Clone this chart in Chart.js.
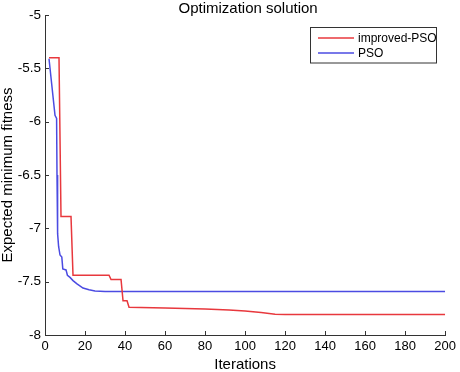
<!DOCTYPE html>
<html>
<head>
<meta charset="utf-8">
<title>Optimization solution</title>
<script src="https://cdn.jsdelivr.net/npm/chart.js@4.4.0/dist/chart.umd.min.js"></script>
<style>
    html, body { margin: 0; padding: 0; background: #fff; }
    #wrap { width: 460px; height: 372px; position: relative; }
</style>
</head>
<body>
<div id="wrap"><canvas id="fitness-chart"></canvas></div>
<script>
// Values
const improvedIter = [2, 7, 8, 13, 14, 32, 33, 38, 39, 41, 42, 60, 80, 92, 100, 108, 115, 120, 200];
const improvedFit = [-5.40, -5.40, -6.89, -6.89, -7.44, -7.44, -7.48, -7.48, -7.68, -7.68, -7.74, -7.748, -7.757, -7.765, -7.775, -7.79, -7.805, -7.808, -7.808];

const psoIter = [2, 5, 5.8, 6.0, 6.3, 6.8, 7.5, 8.4, 8.9, 10.5, 11.2, 12.5, 14, 16, 19, 22, 25, 30, 200];
const psoFit = [-5.41, -5.94, -5.97, -6.50, -7.05, -7.17, -7.25, -7.27, -7.38, -7.39, -7.44, -7.46, -7.49, -7.52, -7.56, -7.575, -7.587, -7.592, -7.592];

const xTicks = [0, 20, 40, 60, 80, 100, 120, 140, 160, 180, 200];
const yTicks = [-8, -7.5, -7, -6.5, -6, -5.5, -5];

const FONT = "'Liberation Sans', Arial, Helvetica, sans-serif";
Chart.defaults.font.family = FONT;
Chart.defaults.color = '#000';

function toPoints(xs, ys) {
    return xs.map((x, i) => ({ x: x, y: ys[i] }));
}

// MATLAB style ticks pointing into the plot
const inwardTicks = {
    id: 'inwardTicks',
    afterDraw(chart) {
        const { ctx, chartArea, scales } = chart;
        ctx.save();
        ctx.strokeStyle = '#333';
        ctx.lineWidth = 1;
        ctx.beginPath();
        scales.x.ticks.forEach(t => {
            const px = Math.round(scales.x.getPixelForValue(t.value)) + 0.5;
            ctx.moveTo(px, chartArea.bottom);
            ctx.lineTo(px, chartArea.bottom - 4);
        });
        scales.y.ticks.forEach(t => {
            const py = Math.round(scales.y.getPixelForValue(t.value)) + 0.5;
            ctx.moveTo(chartArea.left, py);
            ctx.lineTo(chartArea.left + 4, py);
        });
        ctx.stroke();
        ctx.restore();
    }
};

// Title centred over the plot area
const plotTitle = {
    id: 'plotTitle',
    afterDraw(chart, args, opts) {
        const { ctx, chartArea } = chart;
        ctx.save();
        ctx.font = '15px ' + FONT;
        ctx.fillStyle = '#000';
        ctx.textAlign = 'center';
        ctx.textBaseline = 'alphabetic';
        ctx.fillText(opts.text, (chartArea.left + chartArea.right) / 2 + 3, 13);
        ctx.restore();
    }
};

// Boxed legend in the upper right corner
const boxLegend = {
    id: 'boxLegend',
    afterDraw(chart) {
        const { ctx } = chart;
        const left = 310.5, top = 27.5, w = 126, h = 35.5;
        ctx.save();
        ctx.fillStyle = '#fff';
        ctx.fillRect(left, top, w, h);
        ctx.strokeStyle = '#333';
        ctx.lineWidth = 1;
        ctx.strokeRect(left, top, w, h);
        ctx.font = '12px ' + FONT;
        ctx.textBaseline = 'middle';
        ctx.textAlign = 'left';
        chart.data.datasets.forEach((ds, i) => {
            const y = 38 + i * 15;
            ctx.strokeStyle = ds.borderColor;
            ctx.lineWidth = 1.5;
            ctx.beginPath();
            ctx.moveTo(318, y);
            ctx.lineTo(354, y);
            ctx.stroke();
            ctx.fillStyle = '#000';
            ctx.fillText(ds.label, 358, y + 0.5);
        });
        ctx.restore();
    }
};

const fitnessChart = new Chart(document.getElementById('fitness-chart'), {
    type: 'line',
    data: {
        datasets: [{
            label: 'improved-PSO',
            data: toPoints(improvedIter, improvedFit),
            borderColor: '#e8383d',
            borderWidth: 1.5,
            pointRadius: 0,
            tension: 0,
            fill: false
        }, {
            label: 'PSO',
            data: toPoints(psoIter, psoFit),
            borderColor: '#4b4be2',
            borderWidth: 1.5,
            pointRadius: 0,
            tension: 0,
            fill: false
        }]
    },
    options: {
        responsive: true,
        maintainAspectRatio: false,
        animation: false,
        devicePixelRatio: 1,
        layout: {
            padding: { top: 15, right: 12, left: 0, bottom: 0 }
        },
        plugins: {
            legend: { display: false },
            tooltip: { enabled: false },
            plotTitle: { text: 'Optimization solution' }
        },
        scales: {
            x: {
                type: 'linear',
                min: 0,
                max: 200,
                afterBuildTicks: s => { s.ticks = xTicks.map(v => ({ value: v })); },
                afterFit: s => { s.height = 37; },
                ticks: {
                    callback: v => String(v),
                    font: { size: 13 },
                    color: '#000',
                    padding: 4,
                    maxRotation: 0,
                    autoSkip: false
                },
                grid: { display: false, drawTicks: false },
                border: { color: '#333', width: 1 },
                title: {
                    display: true,
                    text: 'Iterations',
                    font: { size: 15, lineHeight: 1 },
                    padding: 0,
                    color: '#000'
                }
            },
            y: {
                type: 'linear',
                min: -8,
                max: -5,
                afterBuildTicks: s => { s.ticks = yTicks.map(v => ({ value: v })); },
                afterFit: s => { s.width = 45; },
                ticks: {
                    callback: v => String(v),
                    font: { size: 13.5 },
                    color: '#000',
                    padding: 4,
                    autoSkip: false
                },
                grid: { display: false, drawTicks: false },
                border: { color: '#333', width: 1 },
                title: {
                    display: true,
                    text: 'Expected minimum fitness',
                    font: { size: 15, lineHeight: 1 },
                    padding: 0,
                    color: '#000'
                }
            }
        }
    },
    plugins: [inwardTicks, plotTitle, boxLegend]
});
</script>
</body>
</html>
